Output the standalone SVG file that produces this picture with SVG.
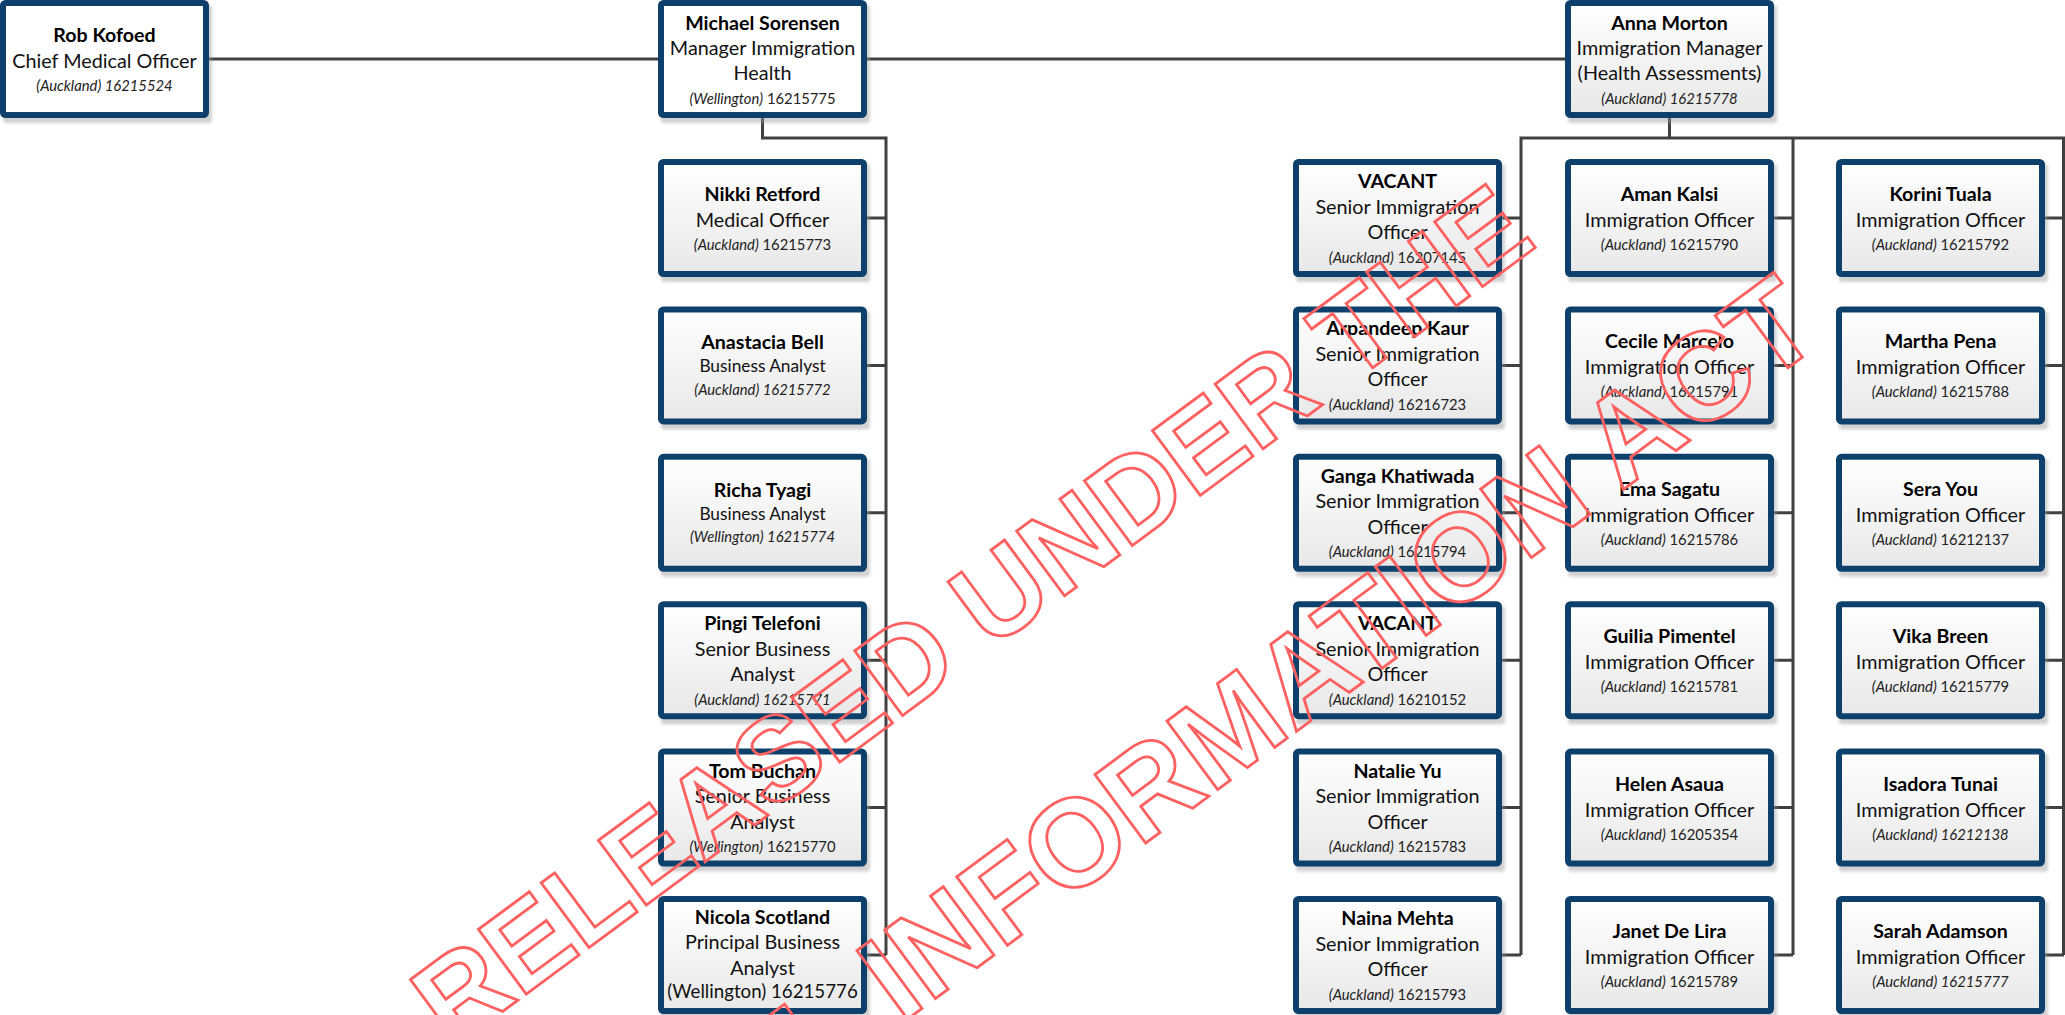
<svg xmlns="http://www.w3.org/2000/svg" xmlns:xlink="http://www.w3.org/1999/xlink" width="2065" height="1015" viewBox="0 0 2065 1015">
<style>
text{font-family:Lato,"Open Sans","Liberation Sans",sans-serif;text-anchor:middle}
.nm{font-weight:bold;font-size:19.6px;fill:#000}
.tt{font-size:19.8px;fill:#111}
.ts{font-size:17.3px;fill:#111}
.lc{font-size:14.8px;fill:#222}
.lb{font-size:18.7px;fill:#111}
.it{font-style:italic}
.wire{fill:none;stroke:#404040;stroke-width:3;stroke-linejoin:miter}
.wm{font-family:"Liberation Sans",Arial,sans-serif;font-weight:bold;font-size:117px;fill:none;stroke:#ff6161;stroke-width:2.8;text-anchor:start}
</style>
<defs>
<linearGradient id="gfill" x1="0" y1="0" x2="0" y2="1">
<stop offset="0" stop-color="#ffffff"/>
<stop offset="1" stop-color="#e8e8e8"/>
</linearGradient>
<filter id="blur" x="-10%" y="-10%" width="120%" height="130%">
<feGaussianBlur stdDeviation="1.6"/>
</filter>
<g id="boxG">
<rect x="3" y="5" width="209" height="118" rx="3" fill="#9a9a9a" opacity="0.45" filter="url(#blur)"/>
<rect x="3" y="3" width="203" height="112" rx="2.5" fill="url(#gfill)" stroke="#0d416c" stroke-width="6"/>
</g>
<g id="boxW">
<rect x="3" y="5" width="209" height="118" rx="3" fill="#9a9a9a" opacity="0.45" filter="url(#blur)"/>
<rect x="3" y="3" width="203" height="112" rx="2.5" fill="#ffffff" stroke="#0d416c" stroke-width="6"/>
</g>
</defs>
<rect width="2065" height="1015" fill="#ffffff"/>

<g id="connectors">
<path class="wire" d="M209 59H658M867 59H1565"/>
<path class="wire" d="M762.5 118V138H886V955"/>
<path class="wire" d="M867 218H886M867 365.4H886M867 512.8H886M867 660.2H886M867 807.6H886M867 955H886"/>
<path class="wire" d="M1669.5 118V138M1521 955V138H2066M1793 138V955M2063.5 138V955"/>
<path class="wire" d="M1502 218H1521M1502 365.4H1521M1502 512.8H1521M1502 660.2H1521M1502 807.6H1521M1502 955H1521"/>
<path class="wire" d="M1774 218H1793M1774 365.4H1793M1774 512.8H1793M1774 660.2H1793M1774 807.6H1793M1774 955H1793"/>
<path class="wire" d="M2045 218H2064M2045 365.4H2064M2045 512.8H2064M2045 660.2H2064M2045 807.6H2064M2045 955H2064"/>
</g>

<g id="rob-kofoed" transform="translate(0,0)">
<use href="#boxW"/>
<text class="nm" x="104.5" y="42">Rob Kofoed</text>
<text class="tt" x="104.5" y="68">Chief Medical Officer</text>
<text class="lc it" x="104.5" y="90.5">(Auckland) 16215524</text>
</g>

<g id="michael-sorensen" transform="translate(658,0)">
<use href="#boxW"/>
<text class="nm" x="104.5" y="29.5">Michael Sorensen</text>
<text class="tt" x="104.5" y="54.5">Manager Immigration</text>
<text class="tt" x="104.5" y="80">Health</text>
<text class="lc" x="104.5" y="103.5"><tspan class="it">(Wellington)</tspan> 16215775</text>
</g>

<g id="anna-morton" transform="translate(1565,0)">
<use href="#boxG"/>
<text class="nm" x="104.5" y="29.5">Anna Morton</text>
<text class="tt" x="104.5" y="54.5">Immigration Manager</text>
<text class="tt" x="104.5" y="80">(Health Assessments)</text>
<text class="lc it" x="104.5" y="103.5">(Auckland) 16215778</text>
</g>

<g id="nikki-retford" transform="translate(658,159)">
<use href="#boxG"/>
<text class="nm" x="104.5" y="42">Nikki Retford</text>
<text class="tt" x="104.5" y="68">Medical Officer</text>
<text class="lc" x="104.5" y="91"><tspan class="it">(Auckland)</tspan> 16215773</text>
</g>
<g id="anastacia-bell" transform="translate(658,306.4)">
<use href="#boxG"/>
<text class="nm" x="104.5" y="43">Anastacia Bell</text>
<text class="ts" x="104.5" y="66">Business Analyst</text>
<text class="lc it" x="104.5" y="88.5">(Auckland) 16215772</text>
</g>
<g id="richa-tyagi" transform="translate(658,453.8)">
<use href="#boxG"/>
<text class="nm" x="104.5" y="43">Richa Tyagi</text>
<text class="ts" x="104.5" y="66">Business Analyst</text>
<text class="lc it" x="104.5" y="88.5">(Wellington) 16215774</text>
</g>
<g id="pingi-telefoni" transform="translate(658,601.2)">
<use href="#boxG"/>
<text class="nm" x="104.5" y="29">Pingi Telefoni</text>
<text class="tt" x="104.5" y="54.5">Senior Business</text>
<text class="tt" x="104.5" y="80">Analyst</text>
<text class="lc it" x="104.5" y="103.5">(Auckland) 16215771</text>
</g>
<g id="tom-buchan" transform="translate(658,748.6)">
<use href="#boxG"/>
<text class="nm" x="104.5" y="29">Tom Buchan</text>
<text class="tt" x="104.5" y="54.5">Senior Business</text>
<text class="tt" x="104.5" y="80">Analyst</text>
<text class="lc" x="104.5" y="103.5"><tspan class="it">(Wellington)</tspan> 16215770</text>
</g>
<g id="nicola-scotland" transform="translate(658,896)">
<use href="#boxG"/>
<text class="nm" x="104.5" y="28">Nicola Scotland</text>
<text class="tt" x="104.5" y="53">Principal Business</text>
<text class="tt" x="104.5" y="78.5">Analyst</text>
<text class="lb" x="104.5" y="102">(Wellington) 16215776</text>
</g>

<g id="vacant-16207145" transform="translate(1293,159)">
<use href="#boxG"/>
<text class="nm" x="104.5" y="29">VACANT</text>
<text class="tt" x="104.5" y="54.5">Senior Immigration</text>
<text class="tt" x="104.5" y="80">Officer</text>
<text class="lc" x="104.5" y="103.5"><tspan class="it">(Auckland)</tspan> 16207145</text>
</g>
<g id="arpandeep-kaur" transform="translate(1293,306.4)">
<use href="#boxG"/>
<text class="nm" x="104.5" y="29">Arpandeep Kaur</text>
<text class="tt" x="104.5" y="54.5">Senior Immigration</text>
<text class="tt" x="104.5" y="80">Officer</text>
<text class="lc" x="104.5" y="103.5"><tspan class="it">(Auckland)</tspan> 16216723</text>
</g>
<g id="ganga-khatiwada" transform="translate(1293,453.8)">
<use href="#boxG"/>
<text class="nm" x="104.5" y="29">Ganga Khatiwada</text>
<text class="tt" x="104.5" y="54.5">Senior Immigration</text>
<text class="tt" x="104.5" y="80">Officer</text>
<text class="lc" x="104.5" y="103.5"><tspan class="it">(Auckland)</tspan> 16215794</text>
</g>
<g id="vacant-16210152" transform="translate(1293,601.2)">
<use href="#boxG"/>
<text class="nm" x="104.5" y="29">VACANT</text>
<text class="tt" x="104.5" y="54.5">Senior Immigration</text>
<text class="tt" x="104.5" y="80">Officer</text>
<text class="lc" x="104.5" y="103.5"><tspan class="it">(Auckland)</tspan> 16210152</text>
</g>
<g id="natalie-yu" transform="translate(1293,748.6)">
<use href="#boxG"/>
<text class="nm" x="104.5" y="29">Natalie Yu</text>
<text class="tt" x="104.5" y="54.5">Senior Immigration</text>
<text class="tt" x="104.5" y="80">Officer</text>
<text class="lc" x="104.5" y="103.5"><tspan class="it">(Auckland)</tspan> 16215783</text>
</g>
<g id="naina-mehta" transform="translate(1293,896)">
<use href="#boxG"/>
<text class="nm" x="104.5" y="29">Naina Mehta</text>
<text class="tt" x="104.5" y="54.5">Senior Immigration</text>
<text class="tt" x="104.5" y="80">Officer</text>
<text class="lc" x="104.5" y="103.5"><tspan class="it">(Auckland)</tspan> 16215793</text>
</g>

<g id="aman-kalsi" transform="translate(1565,159)">
<use href="#boxG"/>
<text class="nm" x="104.5" y="42">Aman Kalsi</text>
<text class="tt" x="104.5" y="68">Immigration Officer</text>
<text class="lc" x="104.5" y="91"><tspan class="it">(Auckland)</tspan> 16215790</text>
</g>
<g id="cecile-marcelo" transform="translate(1565,306.4)">
<use href="#boxG"/>
<text class="nm" x="104.5" y="42">Cecile Marcelo</text>
<text class="tt" x="104.5" y="68">Immigration Officer</text>
<text class="lc" x="104.5" y="91"><tspan class="it">(Auckland)</tspan> 16215791</text>
</g>
<g id="ema-sagatu" transform="translate(1565,453.8)">
<use href="#boxG"/>
<text class="nm" x="104.5" y="42">Ema Sagatu</text>
<text class="tt" x="104.5" y="68">Immigration Officer</text>
<text class="lc" x="104.5" y="91"><tspan class="it">(Auckland)</tspan> 16215786</text>
</g>
<g id="guilia-pimentel" transform="translate(1565,601.2)">
<use href="#boxG"/>
<text class="nm" x="104.5" y="42">Guilia Pimentel</text>
<text class="tt" x="104.5" y="68">Immigration Officer</text>
<text class="lc" x="104.5" y="91"><tspan class="it">(Auckland)</tspan> 16215781</text>
</g>
<g id="helen-asaua" transform="translate(1565,748.6)">
<use href="#boxG"/>
<text class="nm" x="104.5" y="42">Helen Asaua</text>
<text class="tt" x="104.5" y="68">Immigration Officer</text>
<text class="lc" x="104.5" y="91"><tspan class="it">(Auckland)</tspan> 16205354</text>
</g>
<g id="janet-de-lira" transform="translate(1565,896)">
<use href="#boxG"/>
<text class="nm" x="104.5" y="42">Janet De Lira</text>
<text class="tt" x="104.5" y="68">Immigration Officer</text>
<text class="lc" x="104.5" y="91"><tspan class="it">(Auckland)</tspan> 16215789</text>
</g>

<g id="korini-tuala" transform="translate(1836,159)">
<use href="#boxG"/>
<text class="nm" x="104.5" y="42">Korini Tuala</text>
<text class="tt" x="104.5" y="68">Immigration Officer</text>
<text class="lc" x="104.5" y="91"><tspan class="it">(Auckland)</tspan> 16215792</text>
</g>
<g id="martha-pena" transform="translate(1836,306.4)">
<use href="#boxG"/>
<text class="nm" x="104.5" y="42">Martha Pena</text>
<text class="tt" x="104.5" y="68">Immigration Officer</text>
<text class="lc" x="104.5" y="91"><tspan class="it">(Auckland)</tspan> 16215788</text>
</g>
<g id="sera-you" transform="translate(1836,453.8)">
<use href="#boxG"/>
<text class="nm" x="104.5" y="42">Sera You</text>
<text class="tt" x="104.5" y="68">Immigration Officer</text>
<text class="lc" x="104.5" y="91"><tspan class="it">(Auckland)</tspan> 16212137</text>
</g>
<g id="vika-breen" transform="translate(1836,601.2)">
<use href="#boxG"/>
<text class="nm" x="104.5" y="42">Vika Breen</text>
<text class="tt" x="104.5" y="68">Immigration Officer</text>
<text class="lc" x="104.5" y="91"><tspan class="it">(Auckland)</tspan> 16215779</text>
</g>
<g id="isadora-tunai" transform="translate(1836,748.6)">
<use href="#boxG"/>
<text class="nm" x="104.5" y="42">Isadora Tunai</text>
<text class="tt" x="104.5" y="68">Immigration Officer</text>
<text class="lc it" x="104.5" y="91">(Auckland) 16212138</text>
</g>
<g id="sarah-adamson" transform="translate(1836,896)">
<use href="#boxG"/>
<text class="nm" x="104.5" y="42">Sarah Adamson</text>
<text class="tt" x="104.5" y="68">Immigration Officer</text>
<text class="lc it" x="104.5" y="91">(Auckland) 16215777</text>
</g>

<g id="watermark" transform="translate(452,1049) rotate(-36.5)">
<text class="wm" x="0" y="0">RELEASED UNDER THE</text>
<text class="wm" x="1526" y="247" style="text-anchor:end;font-size:124px">OFFICIAL INFORMATION ACT</text>
</g>
</svg>
